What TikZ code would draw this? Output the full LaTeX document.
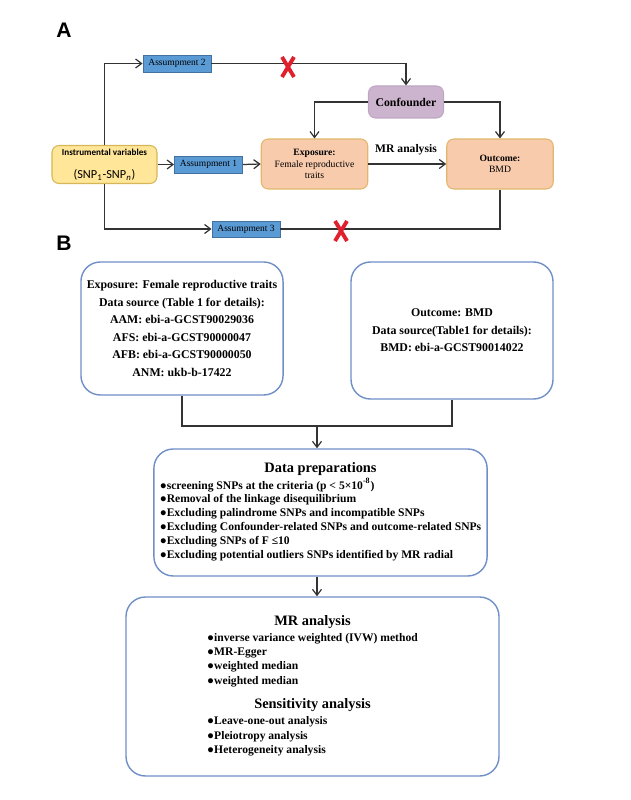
\documentclass[tikz,border=0pt]{standalone}
\usepackage{fontspec}
\setmainfont{Liberation Serif}
\newfontfamily\calibfont{Carlito}
\newfontfamily\arialfont{Liberation Sans}
\usetikzlibrary{arrows.meta}

\definecolor{ivfill}{HTML}{FFE699}
\definecolor{ivline}{HTML}{D6B656}
\definecolor{asfill}{HTML}{5B9BD5}
\definecolor{asline}{HTML}{41719C}
\definecolor{peach}{HTML}{F8CBAD}
\definecolor{peachline}{HTML}{E2B66C}
\definecolor{cffill}{HTML}{CDB4CE}
\definecolor{cfline}{HTML}{BFA6C2}
\definecolor{frame}{HTML}{6F8FC6}
\definecolor{crossred}{HTML}{E0202C}

\newcommand{\boxtitle}[1]{\multicolumn{1}{c}{\fontsize{8.2pt}{10pt}\selectfont #1}}

\begin{document}
\begin{tikzpicture}[x=0.02cm, y=-0.02cm, >={Straight Barb[length=1.2mm, width=1.8mm]},
	line/.style={draw=black!80, line width=0.7pt},
	arr/.style={line, ->},
	assume/.style={draw=asline, fill=asfill, line width=0.5pt, minimum width=1.36cm, minimum height=0.34cm, inner sep=0pt, font=\fontsize{5.4pt}{6pt}\selectfont},
	peachbox/.style={draw=peachline, fill=peach, line width=0.6pt, rounded corners=4pt, minimum width=2.13cm, minimum height=1cm, align=center, inner sep=1pt, font=\fontsize{5.5pt}{6.6pt}\selectfont},
	srcbox/.style={draw=frame, line width=0.8pt, rounded corners=11pt, minimum width=4.04cm, align=center, font=\fontsize{6.75pt}{10pt}\selectfont\bfseries},
	nox/.style={crossred, line width=2.2pt},
	panel/.style={font=\arialfont\bfseries\fontsize{12pt}{14pt}\selectfont}]
	\useasboundingbox (0,0) rectangle (631,800);
	\node[panel] (lbA) at (64,30) {A};
	\node[panel] (lbB) at (64,243) {B};
	% part A
	\node[draw=ivline, fill=ivfill, line width=0.6pt, rounded corners=4pt, minimum width=2.1cm, minimum height=0.76cm, align=center, inner sep=1pt] (iv) at (104.5,164.5)
		{{\calibfont\bfseries\fontsize{5.2pt}{6pt}\selectfont Instrumental variables}\\[1pt]
		 {\calibfont\fontsize{7pt}{8pt}\selectfont (SNP\textsubscript{1}-SNP\textsubscript{\textit{n}})}};
	\node[assume] (a2) at (177,63.5) {Assumpment 2};
	\node[assume] (a1) at (208.5,164.5) {Assumpment 1};
	\node[assume, minimum height=0.32cm] (a3) at (246,229) {Assumpment 3};
	\node[peachbox] (exp) at (314.5,164) {\textbf{Exposure:}\\Female reproductive\\traits};
	\node[peachbox] (out) at (500,164) {\textbf{Outcome:}\\BMD};
	\node[draw=cfline, fill=cffill, line width=0.6pt, rounded corners=4pt, minimum width=1.5cm, minimum height=0.64cm, font=\fontsize{6.7pt}{8pt}\selectfont\bfseries] (conf) at (406,102) {Confounder};
	\node[font=\fontsize{6.6pt}{8pt}\selectfont\bfseries] (mrlab) at (406,150) {MR analysis};
	\draw[arr] (iv.north) |- (a2.west);
	\draw[arr] (a2.east) -| (conf.north);
	\draw[arr] (iv.east) -- (a1.west);
	\draw[arr] (a1.east) -- (exp.west);
	\draw[arr] (iv.south) |- (a3.west);
	\draw[line] (a3.east) -| (out.south);
	\draw[arr] (conf.west) -| (exp.north);
	\draw[arr] (conf.east) -| (out.north);
	\draw[arr] (exp.east) -- (out.west);
	\draw[nox] (282,57) -- (294,77) (294,57) -- (282,77);
	\draw[nox] (335,221) -- (347,241) (347,221) -- (335,241);
	% part B
	\node[srcbox, minimum height=2.66cm] (srcE) at (182,328.5)
		{Exposure: Female reproductive traits\\Data source (Table 1 for details):\\AAM: ebi-a-GCST90029036\\AFS: ebi-a-GCST90000047\\AFB: ebi-a-GCST90000050\\ANM: ukb-b-17422};
	\node[srcbox, minimum height=2.74cm] (srcO) at (452,330.5)
		{Outcome: BMD\\Data source(Table1 for details):\\BMD: ebi-a-GCST90014022};
	\node[srcbox, minimum width=6.62cm, minimum height=2.54cm, font=\fontsize{6.6pt}{7.9pt}\selectfont\bfseries] (prep) at (320.5,512.5)
		{\begin{tabular}{@{}l@{}}
		 \boxtitle{Data preparations}\\[1pt]
		 ●screening SNPs at the criteria (p < 5×10\textsuperscript{-8})\\
		 ●Removal of the linkage disequilibrium\\
		 ●Excluding palindrome SNPs and incompatible SNPs\\
		 ●Excluding Confounder-related SNPs and outcome-related SNPs\\
		 ●Excluding SNPs of F ≤10\\
		 ●Excluding potential outliers SNPs identified by MR radial
		 \end{tabular}};
	\node[srcbox, minimum width=7.46cm, minimum height=3.58cm, font=\fontsize{6.6pt}{8.1pt}\selectfont\bfseries] (mr) at (312.5,686.5)
		{\begin{tabular}{@{}l@{}}
		 \boxtitle{MR analysis}\\[1pt]
		 ●inverse variance weighted (IVW) method\\
		 ●MR-Egger\\
		 ●weighted median\\
		 ●weighted median\\[6pt]
		 \boxtitle{Sensitivity analysis}\\[1pt]
		 ●Leave-one-out analysis\\
		 ●Pleiotropy analysis\\
		 ●Heterogeneity analysis
		 \end{tabular}};
	\coordinate (join) at (317,426);
	\draw[line] (srcE.south) |- (join) -| (srcO.south);
	\draw[arr] (join) -- (join |- prep.north);
	\draw[arr] (prep.south -| join) -- (join |- mr.north);
\end{tikzpicture}
\end{document}
